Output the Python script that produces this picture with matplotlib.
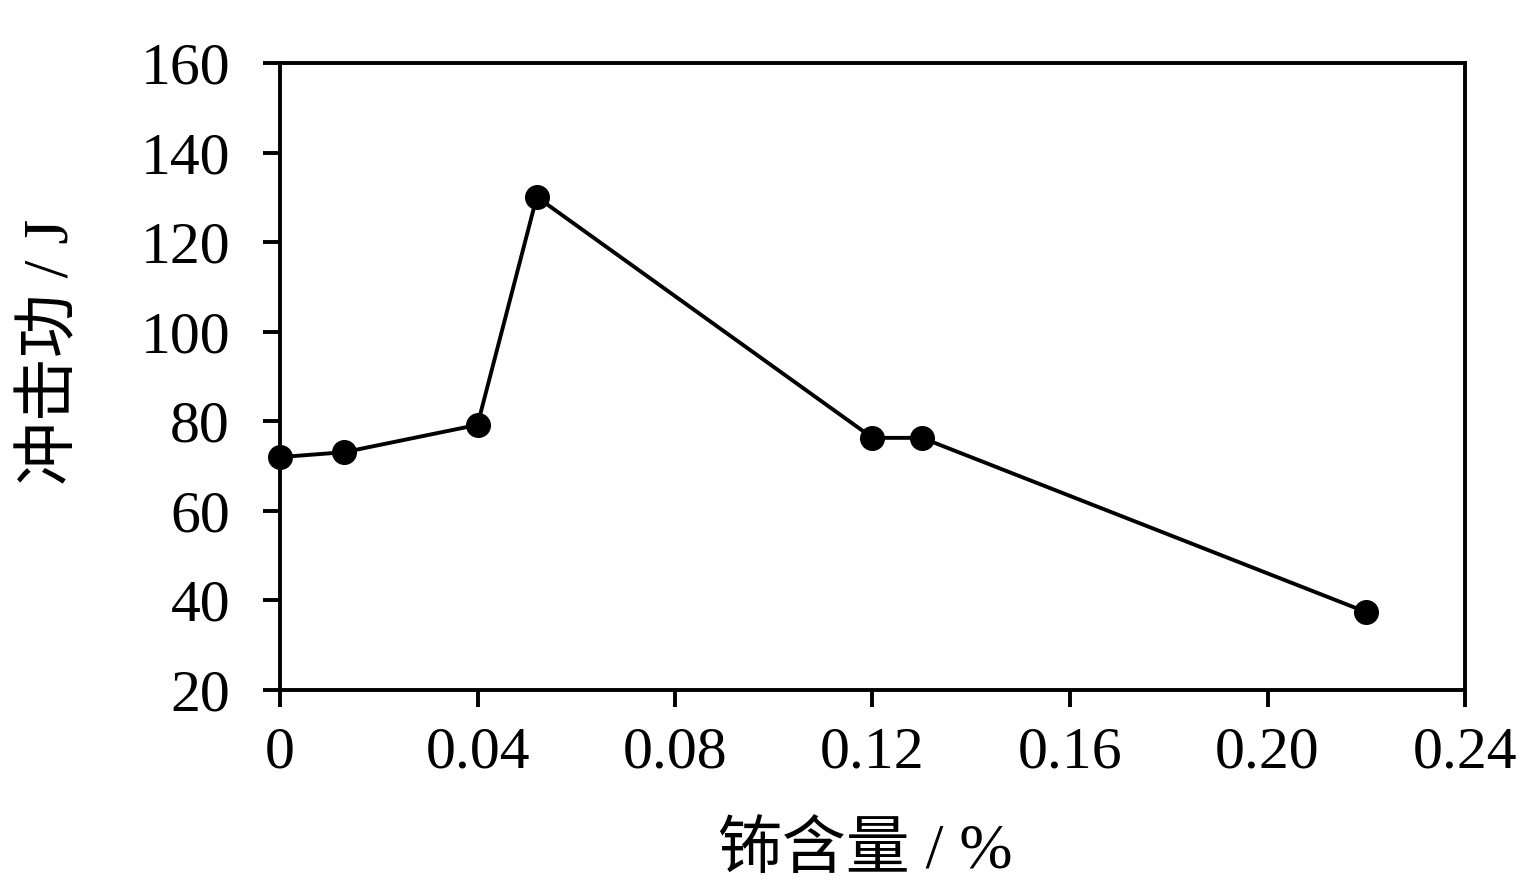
import matplotlib
matplotlib.use("Agg")
import matplotlib.pyplot as plt

plt.rcParams['font.family'] = ['Liberation Serif', 'Noto Sans CJK SC']

# data
ce_content = [0.0, 0.013, 0.040, 0.052, 0.120, 0.130, 0.220]
impact_energy = [72.0, 73.1, 79.2, 130.1, 76.3, 76.3, 37.4]

x_ticks = [0, 0.04, 0.08, 0.12, 0.16, 0.20, 0.24]
x_tick_labels = ["0", "0.04", "0.08", "0.12", "0.16", "0.20", "0.24"]
y_ticks = [20, 40, 60, 80, 100, 120, 140, 160]

fig = plt.figure(figsize=(15.24, 8.91), dpi=100)
ax = fig.add_axes([280 / 1524, 1 - 690 / 891, (1465 - 280) / 1524, (690 - 63) / 891])

ax.plot(ce_content, impact_energy, color="black", linewidth=2.8,
        marker="o", markersize=17, clip_on=False, zorder=3)

ax.set_xlim(0, 0.24)
ax.set_ylim(20, 160)
ax.set_xticks(x_ticks)
ax.set_xticklabels(x_tick_labels)
ax.set_yticks(y_ticks)

for s in ax.spines.values():
    s.set_linewidth(2.8)

ax.tick_params(axis="both", direction="out", length=12, width=2.8, labelsize=43)
ax.tick_params(axis="y", pad=24)
ax.tick_params(axis="x", pad=14)

ax.set_xlabel("钸含量 / %", fontsize=46)
ax.set_ylabel("冲击功 / J", fontsize=46)
# label positions in axes fraction
ax.xaxis.set_label_coords(0.494, -0.212)
ax.yaxis.set_label_coords(-0.167, 0.54)

fig.savefig("out.png", dpi=100, facecolor="white")
